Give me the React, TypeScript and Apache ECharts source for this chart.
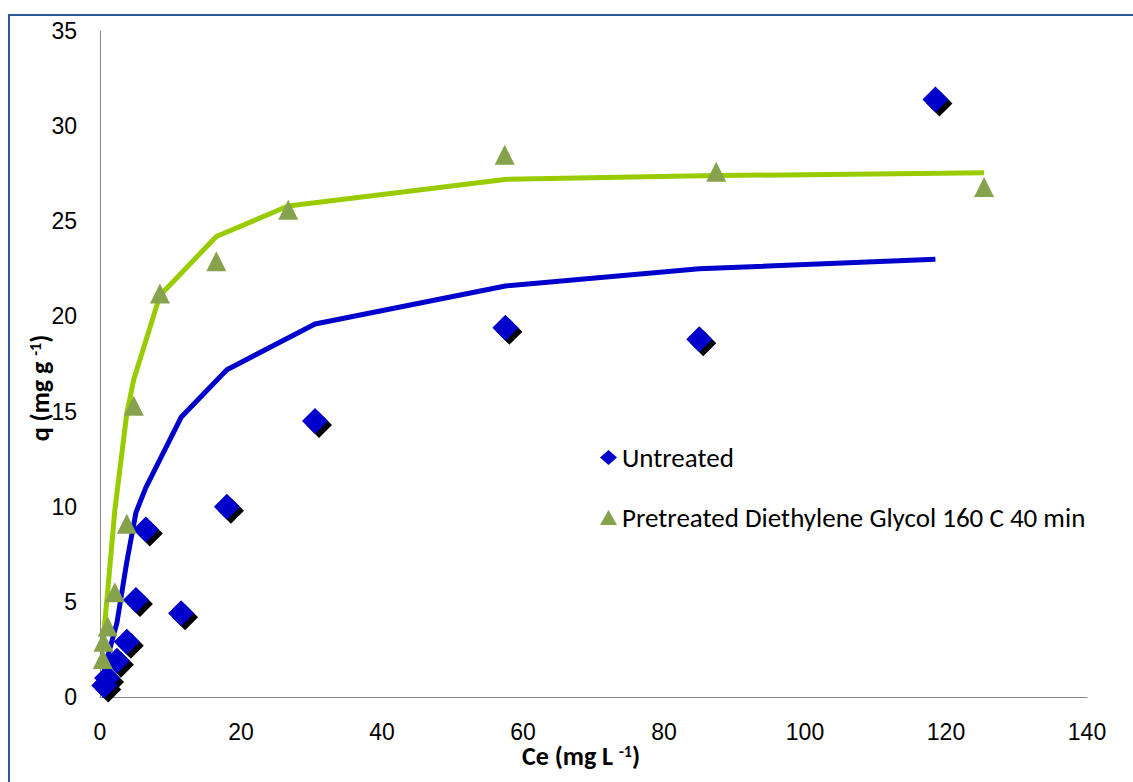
import React, { useEffect, useRef } from "react";
import * as echarts from "echarts";

// Untreated: measured points and fitted curve (same Ce values)
const untreatedCe = [0.6, 1.0, 2.4, 3.8, 5.1, 6.5, 11.5, 18.0, 30.5, 57.5, 85.0, 118.5];
const untreatedQ = [0.6, 1.0, 1.9, 2.9, 5.1, 8.8, 4.4, 10.0, 14.5, 19.4, 18.8, 31.4];
const untreatedFit = [1.4, 2.0, 3.9, 7.1, 9.7, 11.0, 14.7, 17.2, 19.6, 21.6, 22.5, 23.0];

// Pretreated: measured points and fitted curve
const pretreatedCe = [0.4, 0.5, 1.1, 2.1, 3.8, 4.8, 8.5, 16.5, 26.7, 57.4, 87.4, 125.4];
const pretreatedQ = [2.0, 2.9, 3.7, 5.5, 9.1, 15.3, 21.2, 22.9, 25.6, 28.5, 27.6, 26.8];
const pretreatedFit = [2.6, 3.2, 5.6, 9.8, 14.9, 16.7, 21.1, 24.2, 25.8, 27.2, 27.4, 27.55];

const seriesNames = ["Untreated", "Pretreated Diethylene Glycol 160 C 40 min"];
const xTitle = ["Ce (mg L ", "-1", ")"];
const yTitle = ["q (mg g ", "-1", ")"];

const pairs = (xs: number[], ys: number[]) => xs.map((x, i) => [x, ys[i]]);

const titleFont = "Carlito, Lato, 'Open Sans', sans-serif";
const tickFont = "'Liberation Sans', Arial, sans-serif";

export default function App() {
  const ref = useRef<HTMLDivElement>(null);
  useEffect(() => {
    const chart = echarts.init(ref.current!, null, { renderer: "svg" });
    const richTitle = {
      b: { fontSize: 26, fontWeight: "bold", fontFamily: titleFont, color: "#000" },
      s: { fontSize: 16, fontWeight: "bold", fontFamily: titleFont, color: "#000", verticalAlign: "top" },
    };
    chart.setOption({
      animation: false,
      backgroundColor: "#fff",
      grid: { left: 100, right: 46, top: 31, bottom: 85 },
      xAxis: {
        type: "value",
        min: 0,
        max: 140,
        interval: 20,
        splitLine: { show: false },
        axisTick: { show: false },
        axisLine: { lineStyle: { color: "#868686", width: 1 } },
        axisLabel: { fontSize: 23, fontFamily: tickFont, color: "#000", margin: 23 },
      },
      yAxis: {
        type: "value",
        min: 0,
        max: 35,
        interval: 5,
        splitLine: { show: false },
        axisTick: { show: false },
        axisLine: { show: true, lineStyle: { color: "#868686", width: 1 } },
        axisLabel: { fontSize: 23, fontFamily: tickFont, color: "#000", margin: 23 },
      },
      legend: {
        orient: "vertical",
        left: 595,
        top: 439,
        data: seriesNames,
        itemWidth: 17,
        itemHeight: 15,
        itemGap: 33,
        textStyle: { fontSize: 27, fontFamily: titleFont, color: "#000", lineHeight: 27 },
        itemStyle: { opacity: 1 },
      },
      series: [
        {
          name: "Untreated fit",
          type: "line",
          data: pairs(untreatedCe, untreatedFit),
          showSymbol: false,
          symbol: "none",
          lineStyle: { color: "#0000CC", width: 5 },
          z: 2,
        },
        {
          name: "Pretreated fit",
          type: "line",
          data: pairs(pretreatedCe, pretreatedFit),
          showSymbol: false,
          symbol: "none",
          lineStyle: { color: "#99CC00", width: 5 },
          z: 2,
        },
        {
          name: "Untreated shadow",
          type: "scatter",
          data: pairs(untreatedCe, untreatedQ),
          symbol: "diamond",
          symbolSize: 26,
          symbolOffset: [4, 4],
          itemStyle: { color: "#000", opacity: 1 },
          z: 3,
        },
        {
          name: seriesNames[0],
          type: "scatter",
          data: pairs(untreatedCe, untreatedQ),
          symbol: "diamond",
          symbolSize: 26,
          itemStyle: { color: "#0000CC", opacity: 1 },
          z: 4,
        },
        {
          name: seriesNames[1],
          type: "scatter",
          data: pairs(pretreatedCe, pretreatedQ),
          symbol: "triangle",
          symbolSize: 20,
          itemStyle: { color: "#86A24C", opacity: 1 },
          z: 5,
        },
      ],
      graphic: [
        {
          type: "rect",
          shape: { x: 9, y: 15, width: 1300, height: 1000 },
          style: { fill: "none", stroke: "#2F5B94", lineWidth: 2 },
          silent: true,
        },
        {
          type: "text",
          x: 581,
          y: 756,
          style: {
            text: `{b|${xTitle[0]}}{s|${xTitle[1]}}{b|${xTitle[2]}}`,
            rich: richTitle,
            align: "center",
            verticalAlign: "middle",
          },
        },
        {
          type: "text",
          x: 40,
          y: 388,
          rotation: Math.PI / 2,
          style: {
            text: `{b|${yTitle[0]}}{s|${yTitle[1]}}{b|${yTitle[2]}}`,
            rich: richTitle,
            align: "center",
            verticalAlign: "middle",
          },
        },
      ],
    });
    return () => chart.dispose();
  }, []);
  return (
    <div
      ref={ref}
      style={{ position: "fixed", left: 0, top: 0, width: 1133, height: 782, background: "#fff" }}
    />
  );
}
